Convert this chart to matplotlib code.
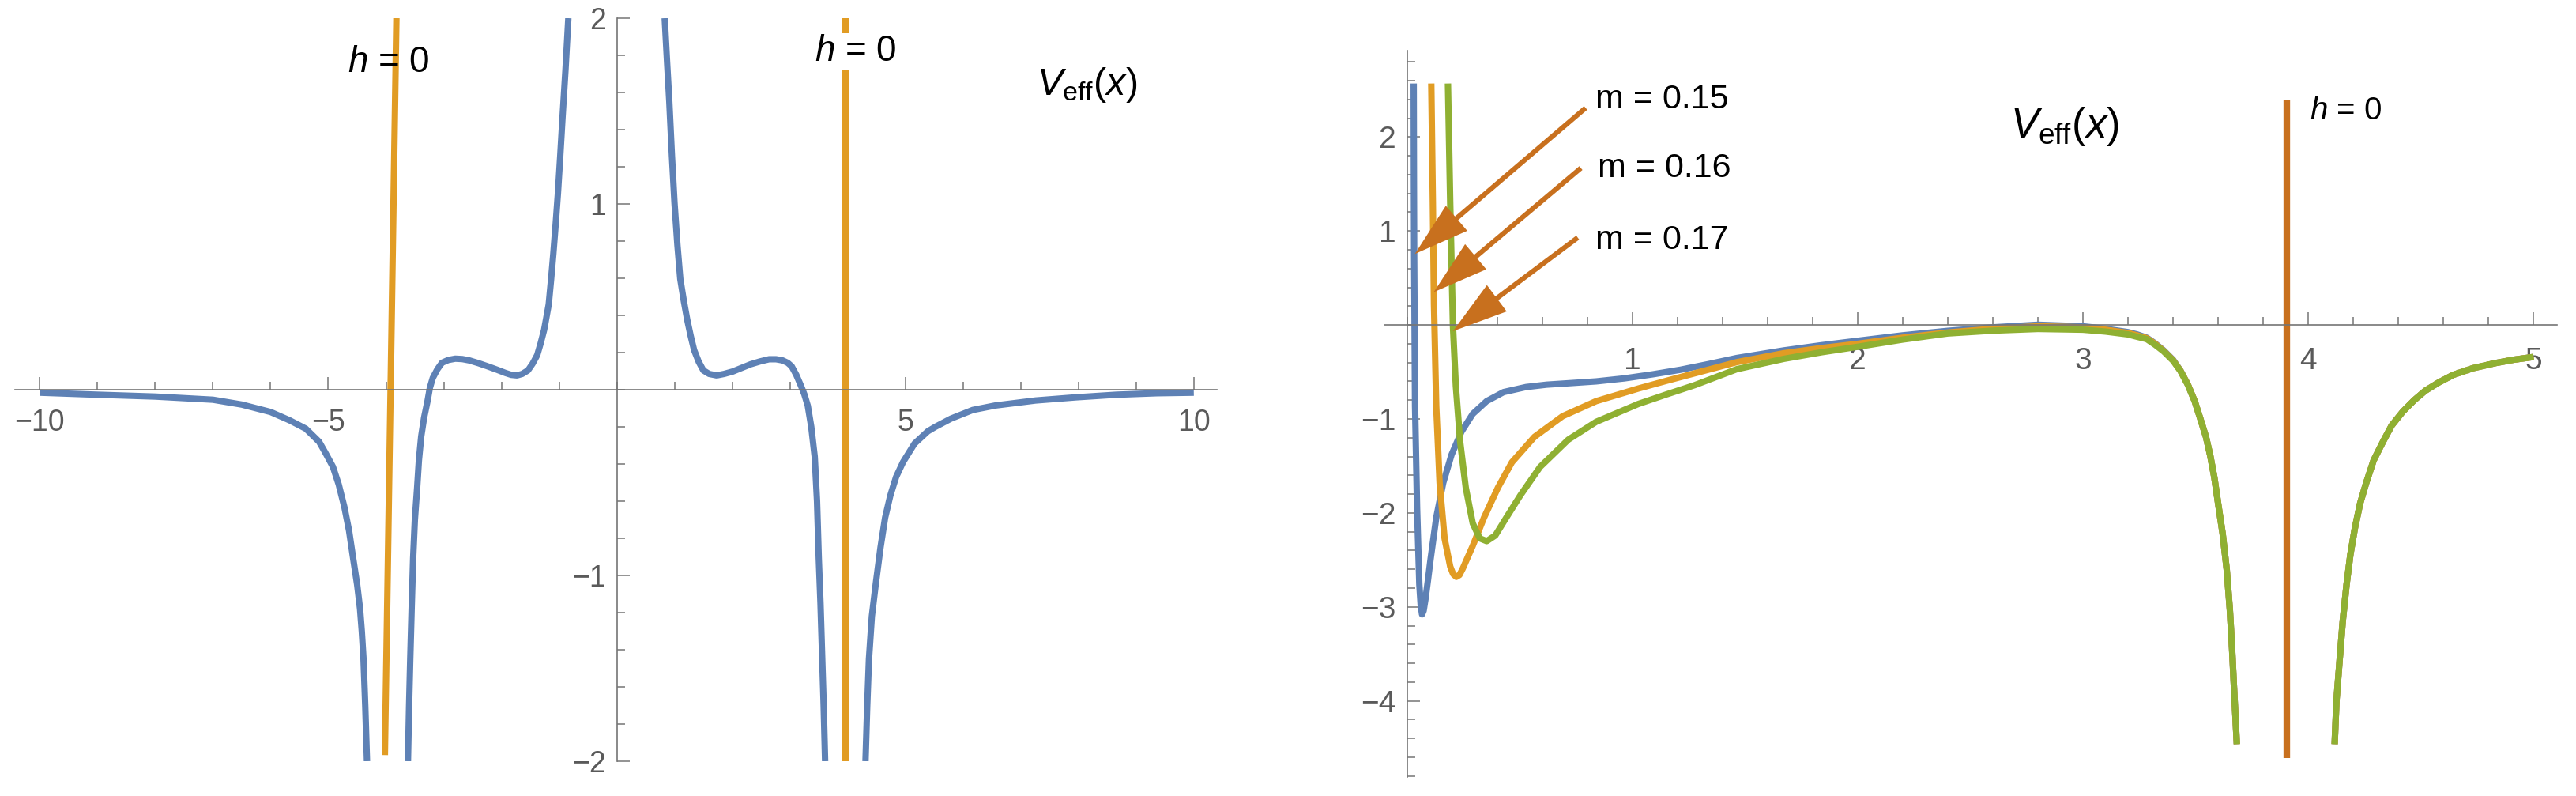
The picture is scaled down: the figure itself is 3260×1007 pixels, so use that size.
import matplotlib
matplotlib.use("Agg")
import matplotlib.pyplot as plt
from matplotlib.ticker import MultipleLocator, FixedLocator

plt.rcParams['font.family'] = ['Liberation Sans', 'DejaVu Sans']
plt.rcParams['mathtext.fontset'] = 'custom'
plt.rcParams['mathtext.rm'] = 'Liberation Sans'
plt.rcParams['mathtext.it'] = 'Liberation Sans:italic'

blue = '#5E81B5'
orange = '#E19C24'
green = '#8FB032'
brown = '#C8701E'
axcol = '#757575'
labcol = '#5a5a5a'

# ---- left panel, V_eff for h != 0 ----
outer_l_x = [-10.0, -9.0, -8.0, -7.0, -6.5, -6.0, -5.67, -5.39, -5.16, -5.05, -4.92, -4.82, -4.72, -4.64,
             -4.57, -4.50, -4.45, -4.42, -4.39, -4.36, -4.33]
outer_l_y = [-0.016, -0.027, -0.037, -0.054, -0.08, -0.12, -0.165, -0.21, -0.28, -0.34, -0.415, -0.51, -0.634,
             -0.76, -0.907, -1.05, -1.18, -1.3, -1.45, -1.7, -2.0]

inner_l_x = [-3.62, -3.60, -3.58, -3.555, -3.53, -3.50, -3.46, -3.43, -3.39, -3.34, -3.28, -3.24, -3.19, -3.11,
             -3.03, -2.92, -2.80, -2.68, -2.56, -2.40, -2.24, -2.08, -1.93, -1.83, -1.73, -1.64, -1.54, -1.46,
             -1.38, -1.32, -1.26, -1.22, -1.18, -1.14, -1.10, -1.06, -1.02, -0.98, -0.94, -0.89, -0.84]
inner_l_y = [-2.0, -1.7, -1.45, -1.17, -0.907, -0.70, -0.525, -0.38, -0.251, -0.15, -0.06, 0.01, 0.063, 0.11,
             0.145, 0.16, 0.167, 0.165, 0.158, 0.143, 0.126, 0.108, 0.090, 0.08, 0.077, 0.085, 0.104, 0.14,
             0.186, 0.25, 0.322, 0.39, 0.459, 0.59, 0.732, 0.89, 1.06, 1.26, 1.47, 1.72, 2.0]

inner_r_x = [0.83, 0.87, 0.91, 0.955, 1.0, 1.05, 1.10, 1.16, 1.22, 1.28, 1.34, 1.42, 1.50, 1.60, 1.73, 1.86,
             2.01, 2.16, 2.32, 2.48, 2.64, 2.76, 2.87, 2.96, 3.03, 3.11, 3.19, 3.25, 3.31, 3.37, 3.43, 3.47,
             3.50, 3.53, 3.56, 3.585, 3.61]
inner_r_y = [2.0, 1.77, 1.55, 1.26, 1.005, 0.78, 0.596, 0.48, 0.377, 0.29, 0.213, 0.15, 0.104, 0.085, 0.077,
             0.085, 0.098, 0.117, 0.137, 0.152, 0.164, 0.164, 0.158, 0.145, 0.126, 0.08, 0.022, -0.025, -0.087,
             -0.2, -0.361, -0.6, -0.907, -1.15, -1.45, -1.7, -2.0]

outer_r_x = [4.31, 4.34, 4.37, 4.42, 4.49, 4.57, 4.65, 4.74, 4.84, 4.96, 5.08, 5.16, 5.39, 5.52, 5.79, 5.87,
             6.17, 6.56, 7.26, 7.96, 8.66, 9.36, 10.0]
outer_r_y = [-2.0, -1.7, -1.45, -1.22, -1.04, -0.85, -0.689, -0.57, -0.47, -0.39, -0.33, -0.29, -0.224, -0.2,
             -0.156, -0.146, -0.109, -0.085, -0.058, -0.041, -0.027, -0.019, -0.016]

# h = 0 lines in the left panel
h0_left_x = [-4.02, -3.82]
h0_left_y = [-1.967, 2.0]
h0_right_x = [3.96, 3.96]
h0_right_y = [-2.0, 2.0]

# ---- right panel, three masses ----
m_labels = ['m = 0.15', 'm = 0.16', 'm = 0.17']

m15_x = [0.030, 0.031, 0.032, 0.036, 0.045, 0.055, 0.061, 0.067, 0.074, 0.082, 0.093, 0.105, 0.130, 0.161,
         0.198, 0.242, 0.292, 0.354, 0.429, 0.529, 0.62, 0.716, 0.84, 0.965, 1.09, 1.214, 1.34, 1.464, 1.673,
         1.84, 2.0, 2.2, 2.4, 2.6, 2.8, 3.0, 3.1, 3.2, 3.24, 3.283, 3.32, 3.358, 3.40, 3.433, 3.465, 3.496,
         3.52, 3.546, 3.565, 3.583, 3.60, 3.62, 3.638, 3.652, 3.662, 3.67, 3.683]
m15_y = [2.57, 1.5, 0.76, -0.86, -1.95, -2.76, -2.98, -3.08, -3.04, -2.92, -2.72, -2.49, -2.05, -1.68, -1.38,
         -1.135, -0.946, -0.81, -0.714, -0.66, -0.635, -0.62, -0.60, -0.568, -0.525, -0.476, -0.415, -0.351,
         -0.27, -0.215, -0.168, -0.11, -0.062, -0.025, 0.003, -0.014, -0.04, -0.076, -0.10, -0.135, -0.195,
         -0.27, -0.37, -0.486, -0.63, -0.81, -0.99, -1.19, -1.39, -1.62, -1.9, -2.22, -2.6, -3.03, -3.45,
         -3.84, -4.46]

m16_x = [0.108, 0.115, 0.120, 0.130, 0.145, 0.167, 0.192, 0.205, 0.219, 0.233, 0.248, 0.292, 0.342, 0.404,
         0.466, 0.566, 0.691, 0.840, 1.027, 1.15, 1.277, 1.464, 1.673, 1.84, 2.0, 2.2, 2.4, 2.6, 2.8, 3.0,
         3.1, 3.2, 3.24, 3.283, 3.32, 3.358, 3.40, 3.433, 3.465, 3.496, 3.52, 3.546, 3.565, 3.583, 3.60,
         3.62, 3.638, 3.652, 3.662, 3.67, 3.683]
m16_y = [2.57, 1.30, 0.216, -0.865, -1.68, -2.27, -2.57, -2.65, -2.68, -2.66, -2.59, -2.35, -2.05, -1.73,
         -1.46, -1.19, -0.97, -0.81, -0.676, -0.595, -0.514, -0.395, -0.30, -0.245, -0.20, -0.135, -0.08,
         -0.04, -0.014, -0.025, -0.05, -0.085, -0.11, -0.14, -0.2, -0.275, -0.375, -0.488, -0.63, -0.81,
         -0.99, -1.19, -1.39, -1.62, -1.9, -2.22, -2.6, -3.03, -3.45, -3.84, -4.46]

m17_x = [0.182, 0.192, 0.204, 0.217, 0.236, 0.261, 0.292, 0.323, 0.354, 0.392, 0.441, 0.504, 0.591, 0.716,
         0.840, 1.027, 1.15, 1.277, 1.464, 1.673, 1.84, 2.0, 2.2, 2.4, 2.6, 2.8, 3.0, 3.1, 3.2, 3.24, 3.283,
         3.32, 3.358, 3.40, 3.433, 3.465, 3.496, 3.52, 3.546, 3.565, 3.583, 3.60, 3.62, 3.638, 3.652, 3.662,
         3.67, 3.683]
m17_y = [2.57, 1.30, 0.0, -0.65, -1.24, -1.73, -2.11, -2.27, -2.30, -2.24, -2.05, -1.81, -1.51, -1.22,
         -1.03, -0.84, -0.74, -0.64, -0.47, -0.36, -0.29, -0.232, -0.155, -0.09, -0.06, -0.042, -0.05,
         -0.07, -0.10, -0.125, -0.15, -0.21, -0.28, -0.38, -0.49, -0.635, -0.81, -0.99, -1.19, -1.39, -1.62,
         -1.9, -2.22, -2.6, -3.03, -3.45, -3.84, -4.46]

# branch beyond the horizon, the three curves lie on top of each other
far_x = [4.117, 4.125, 4.139, 4.153, 4.17, 4.187, 4.207, 4.23, 4.257, 4.29, 4.332, 4.37, 4.42, 4.47, 4.519,
         4.58, 4.644, 4.73, 4.831, 4.91, 5.0]
far_y = [-4.46, -4.0, -3.57, -3.15, -2.76, -2.44, -2.16, -1.9, -1.68, -1.44, -1.24, -1.07, -0.92, -0.8,
         -0.70, -0.61, -0.53, -0.46, -0.405, -0.37, -0.34]

h0_x = [3.904, 3.904]
h0_y = [-4.61, 2.39]

# arrows: (tail, tip) for each mass label
arrow_tail = [(0.793, 2.31), (0.772, 1.67), (0.758, 0.93)]
arrow_tip = [(0.035, 0.756), (0.119, 0.35), (0.204, -0.066)]
label_pos = [(0.835, 2.40), (0.847, 1.67), (0.835, 0.90)]


def mathematica_axes(ax, xlim, ylim, tsize, xpad):
    ax.set_xlim(*xlim)
    ax.set_ylim(*ylim)
    for s in ['top', 'right']:
        ax.spines[s].set_visible(False)
    for s in ['left', 'bottom']:
        ax.spines[s].set_position(('data', 0))
        ax.spines[s].set_color(axcol)
        ax.spines[s].set_linewidth(1.2)
    ax.tick_params(which='both', direction='in', color=axcol, width=1.1)
    ax.tick_params(which='major', length=11.5)
    ax.tick_params(which='minor', length=7)
    ax.tick_params(axis='x', labelsize=tsize, labelcolor=labcol, pad=xpad)
    ax.tick_params(axis='y', labelsize=tsize, labelcolor=labcol, pad=10)
    ax.patch.set_alpha(0)


fig = plt.figure(figsize=(32.6, 10.07), dpi=100)
LW = 5.8

# ---------------- left ----------------
ax1 = fig.add_axes([19 / 3260, 44 / 1007, 1521 / 3260, 940 / 1007])
mathematica_axes(ax1, (-10.43, 10.4), (-2, 2), 27, 17)
ax1.xaxis.set_major_locator(FixedLocator([-10, -5, 5, 10]))
ax1.xaxis.set_minor_locator(MultipleLocator(1))
ax1.yaxis.set_major_locator(FixedLocator([-2, -1, 1, 2]))
ax1.yaxis.set_minor_locator(MultipleLocator(0.2))

for xs, ys in [(outer_l_x, outer_l_y), (inner_l_x, inner_l_y), (inner_r_x, inner_r_y), (outer_r_x, outer_r_y)]:
    ax1.plot(xs, ys, color=blue, lw=LW, solid_capstyle='butt', solid_joinstyle='round')
ax1.plot(h0_left_x, h0_left_y, color=orange, lw=LW, solid_capstyle='butt')
ax1.plot(h0_right_x, h0_right_y, color=orange, lw=LW, solid_capstyle='butt')

ax1.text(-3.96, 1.76, '$h$ = 0', fontsize=33, ha='center', va='center', zorder=5)
ax1.text(4.14, 1.82, '$h$ = 0', fontsize=33, ha='center', va='center', zorder=5,
         bbox=dict(fc='white', ec='none', pad=1))
ax1.text(8.15, 1.64, r'$V_{\mathrm{eff}}(x)$', fontsize=35, ha='center', va='center')

# ---------------- right ----------------
ax2 = fig.add_axes([1752 / 3260, 24 / 1007, 1484 / 3260, 919 / 1007])
mathematica_axes(ax2, (-0.1, 5.104), (-4.81, 2.92), 28, 20)
ax2.xaxis.set_major_locator(FixedLocator([1, 2, 3, 4, 5]))
ax2.xaxis.set_minor_locator(MultipleLocator(0.2))
ax2.yaxis.set_major_locator(FixedLocator([-4, -3, -2, -1, 1, 2]))
ax2.yaxis.set_minor_locator(MultipleLocator(0.2))

for (xs, ys), c in zip([(m15_x, m15_y), (m16_x, m16_y), (m17_x, m17_y)], [blue, orange, green]):
    ax2.plot(xs, ys, color=c, lw=LW, solid_capstyle='butt', solid_joinstyle='round')
    ax2.plot(far_x, far_y, color=c, lw=LW, solid_capstyle='butt', solid_joinstyle='round')
ax2.plot(h0_x, h0_y, color=brown, lw=6, solid_capstyle='butt')

for lab, (lx, ly), tail, tip in zip(m_labels, label_pos, arrow_tail, arrow_tip):
    ax2.text(lx, ly, lab, fontsize=31, ha='left', va='center')
    ax2.annotate('', xy=tip, xytext=tail,
                 arrowprops=dict(arrowstyle='simple,head_length=50,head_width=30,tail_width=4.5',
                                 mutation_scale=1, fc=brown, ec='none', lw=0,
                                 shrinkA=0, shrinkB=0))

ax2.text(4.007, 2.28, '$h$ = 0', fontsize=29, ha='left', va='center')
ax2.text(2.92, 2.11, r'$V_{\mathrm{eff}}(x)$', fontsize=38, ha='center', va='center')

fig.savefig('out.png', dpi=100, facecolor='white')
